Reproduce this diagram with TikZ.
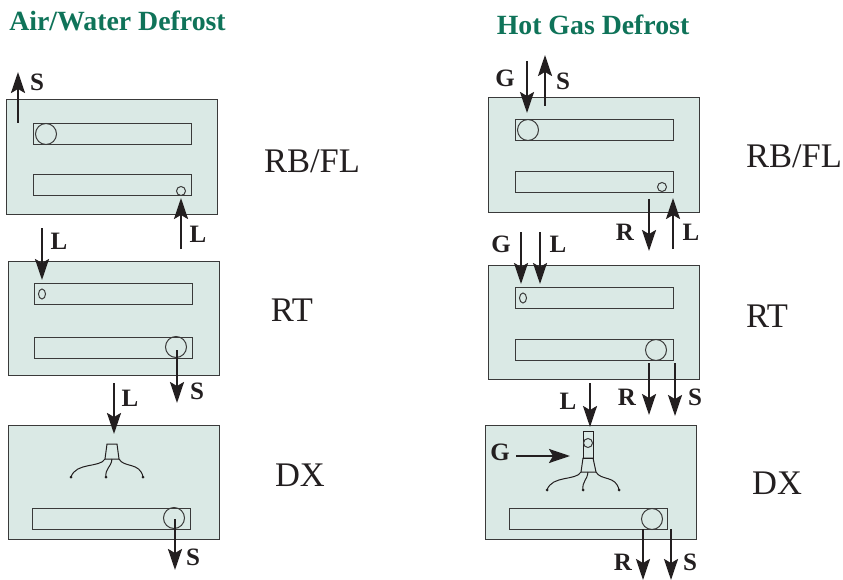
\documentclass[tikz,border=0pt]{standalone}
\usepackage{fontspec}
\setmainfont{Liberation Serif}
\usepackage{xcolor}
\usetikzlibrary{arrows.meta,shapes.geometric}
\definecolor{panelfill}{HTML}{DAE9E5}
\definecolor{edge}{HTML}{3A3A3A}
\definecolor{ink}{HTML}{231F20}
\definecolor{heading}{HTML}{0F7359}
\tikzset{
  panel/.style={draw=edge, fill=panelfill, line width=1pt, anchor=north west, inner sep=0pt, outer sep=0pt, minimum width=211pt, minimum height=114.5pt},
  bar/.style={draw=edge, line width=1pt, anchor=north west, inner sep=0pt, outer sep=0pt, minimum width=158pt, minimum height=21pt},
  port/.style={circle, draw=edge, line width=1pt, inner sep=0pt, minimum size=21pt},
  tinyport/.style={circle, draw=edge, line width=1pt, inner sep=0pt, minimum size=9pt},
  slot/.style={ellipse, draw=edge, line width=1pt, inner sep=0pt, minimum width=7pt, minimum height=10pt},
  flow/.style={draw=ink, line width=2.3pt, -{Stealth[length=21pt,width=14pt,inset=4pt]}},
  pipe/.style={draw=ink, line width=1pt},
  lab/.style={text=ink, font=\fontsize{25}{25}\selectfont\bfseries, inner sep=0pt},
  stage/.style={text=ink, font=\fontsize{34.5}{35}\selectfont, inner sep=0pt},
  title/.style={text=heading, font=\fontsize{27.8}{28}\selectfont\bfseries, inner sep=0pt},
}
\begin{document}
\begin{tikzpicture}[x=1pt,y=-1pt]
  \useasboundingbox (0,0) rectangle (843,580);
  % titles
  \node[title] (titleA) at (117.5,21) {Air/Water Defrost};
  \node[title] (titleH) at (593,25) {Hot Gas Defrost};
  % left column
  \node[panel] (panelA) at (6,100) {};
  \node[bar] (barA) at (33,124) {};
  \node[bar] (barB) at (33,175) {};
  \node[port] (portA) at (46,134) {};
  \node[tinyport] (portB) at (181,191) {};
  \node[panel] (panelB) at (8,261) {};
  \node[bar] (barC) at (34,283) {};
  \node[bar] (barD) at (34,337) {};
  \node[slot] (portC) at (42,294) {};
  \node[port] (portD) at (176,347) {};
  \node[panel] (panelC) at (8,425) {};
  \node[bar] (barE) at (32,508) {};
  \node[port] (portE) at (174,518) {};
  % left nozzle
  \draw[pipe] (105,459) -- (107,444) -- (117,444) -- (119,459) -- cycle;
  \draw[pipe] (105,459) .. controls (100,468) and (76,462) .. (71,477);
  \draw[pipe] (112,459) .. controls (111,468) and (105,468) .. (106,477);
  \draw[pipe] (119,459) .. controls (124,468) and (140,462) .. (143,477);
  \fill[ink] (71,477) circle (1.5) (106,477) circle (1.5) (143,477) circle (1.5);
  % right column
  \node[panel] (panelD) at (488,98) {};
  \node[bar] (barF) at (515,120) {};
  \node[bar] (barG) at (515,172) {};
  \node[port] (portF) at (528,130) {};
  \node[tinyport] (portG) at (662,187) {};
  \node[panel] (panelE) at (488,265) {};
  \node[bar] (barH) at (515,287) {};
  \node[bar] (barI) at (515,339) {};
  \node[slot] (portH) at (523,298) {};
  \node[port] (portI) at (656,350) {};
  \node[panel] (panelF) at (485,425) {};
  \node[bar] (barJ) at (509.5,508) {};
  \node[port] (portJ) at (652,519) {};
  % right nozzle
  \node[draw=ink, line width=1pt, inner sep=0pt, minimum width=10pt, minimum height=27pt] (neck) at (588,444.5) {};
  \node[tinyport] (sight) at (588,443) {};
  \draw[pipe] (581,472) -- (583,458) -- (593,458) -- (596,472) -- cycle;
  \draw[pipe] (581,472) .. controls (576,481) and (552,475) .. (547,490);
  \draw[pipe] (588,472) .. controls (587,481) and (582,481) .. (583,490);
  \draw[pipe] (596,472) .. controls (601,481) and (616,475) .. (619,490);
  \fill[ink] (547,490) circle (1.5) (583,490) circle (1.5) (619,490) circle (1.5);
  % left flows
  \coordinate (a1) at (18,123); \coordinate (a2) at (18,72); \draw[flow] (a1) -- (a2);
  \coordinate (b1) at (42,228); \coordinate (b2) at (42,280); \draw[flow] (b1) -- (b2);
  \coordinate (c1) at (181,249); \coordinate (c2) at (181,198); \draw[flow] (c1) -- (c2);
  \coordinate (d1) at (177,350); \coordinate (d2) at (177,403); \draw[flow] (d1) -- (d2);
  \coordinate (e1) at (114,383); \coordinate (e2) at (114,434); \draw[flow] (e1) -- (e2);
  \coordinate (f1) at (175,519); \coordinate (f2) at (175,570); \draw[flow] (f1) -- (f2);
  % right flows
  \coordinate (g1) at (527,61); \coordinate (g2) at (527,113); \draw[flow] (g1) -- (g2);
  \coordinate (h1) at (545,106); \coordinate (h2) at (545,55); \draw[flow] (h1) -- (h2);
  \coordinate (i1) at (649,199); \coordinate (i2) at (649,251); \draw[flow] (i1) -- (i2);
  \coordinate (j1) at (673,249); \coordinate (j2) at (673,198); \draw[flow] (j1) -- (j2);
  \coordinate (k1) at (521,232); \coordinate (k2) at (521,284); \draw[flow] (k1) -- (k2);
  \coordinate (l1) at (540,232); \coordinate (l2) at (540,284); \draw[flow] (l1) -- (l2);
  \coordinate (m1) at (590,383); \coordinate (m2) at (590,427); \draw[flow] (m1) -- (m2);
  \coordinate (n1) at (649,363); \coordinate (n2) at (649,415); \draw[flow] (n1) -- (n2);
  \coordinate (o1) at (675,363); \coordinate (o2) at (675,416); \draw[flow] (o1) -- (o2);
  \coordinate (p1) at (516,456); \coordinate (p2) at (570,456); \draw[flow] (p1) -- (p2);
  \coordinate (q1) at (643,529); \coordinate (q2) at (643,580); \draw[flow] (q1) -- (q2);
  \coordinate (r1) at (671,529); \coordinate (r2) at (671,580); \draw[flow] (r1) -- (r2);
  % flow letters
  \node[lab] (labA) at (37,82) {S};
  \node[lab] (labB) at (59,241) {L};
  \node[lab] (labC) at (198,234) {L};
  \node[lab] (labD) at (197,391) {S};
  \node[lab] (labE) at (130,398) {L};
  \node[lab] (labF) at (193,557) {S};
  \node[lab] (labG) at (505,78) {G};
  \node[lab] (labH) at (563,81) {S};
  \node[lab] (labI) at (625,232) {R};
  \node[lab] (labJ) at (691,232) {L};
  \node[lab] (labK) at (501,244) {G};
  \node[lab] (labL) at (558,244) {L};
  \node[lab] (labM) at (568,401) {L};
  \node[lab] (labN) at (627,397) {R};
  \node[lab] (labO) at (695,397) {S};
  \node[lab] (labP) at (500,452) {G};
  \node[lab] (labQ) at (623,562) {R};
  \node[lab] (labR) at (690,562) {S};
  % stage names
  \node[stage] (stageA) at (312,161) {RB/FL};
  \node[stage] (stageB) at (292,310) {RT};
  \node[stage] (stageC) at (300,475) {DX};
  \node[stage] (stageD) at (794,156) {RB/FL};
  \node[stage] (stageE) at (767,316) {RT};
  \node[stage] (stageF) at (777,483) {DX};
\end{tikzpicture}
\end{document}
